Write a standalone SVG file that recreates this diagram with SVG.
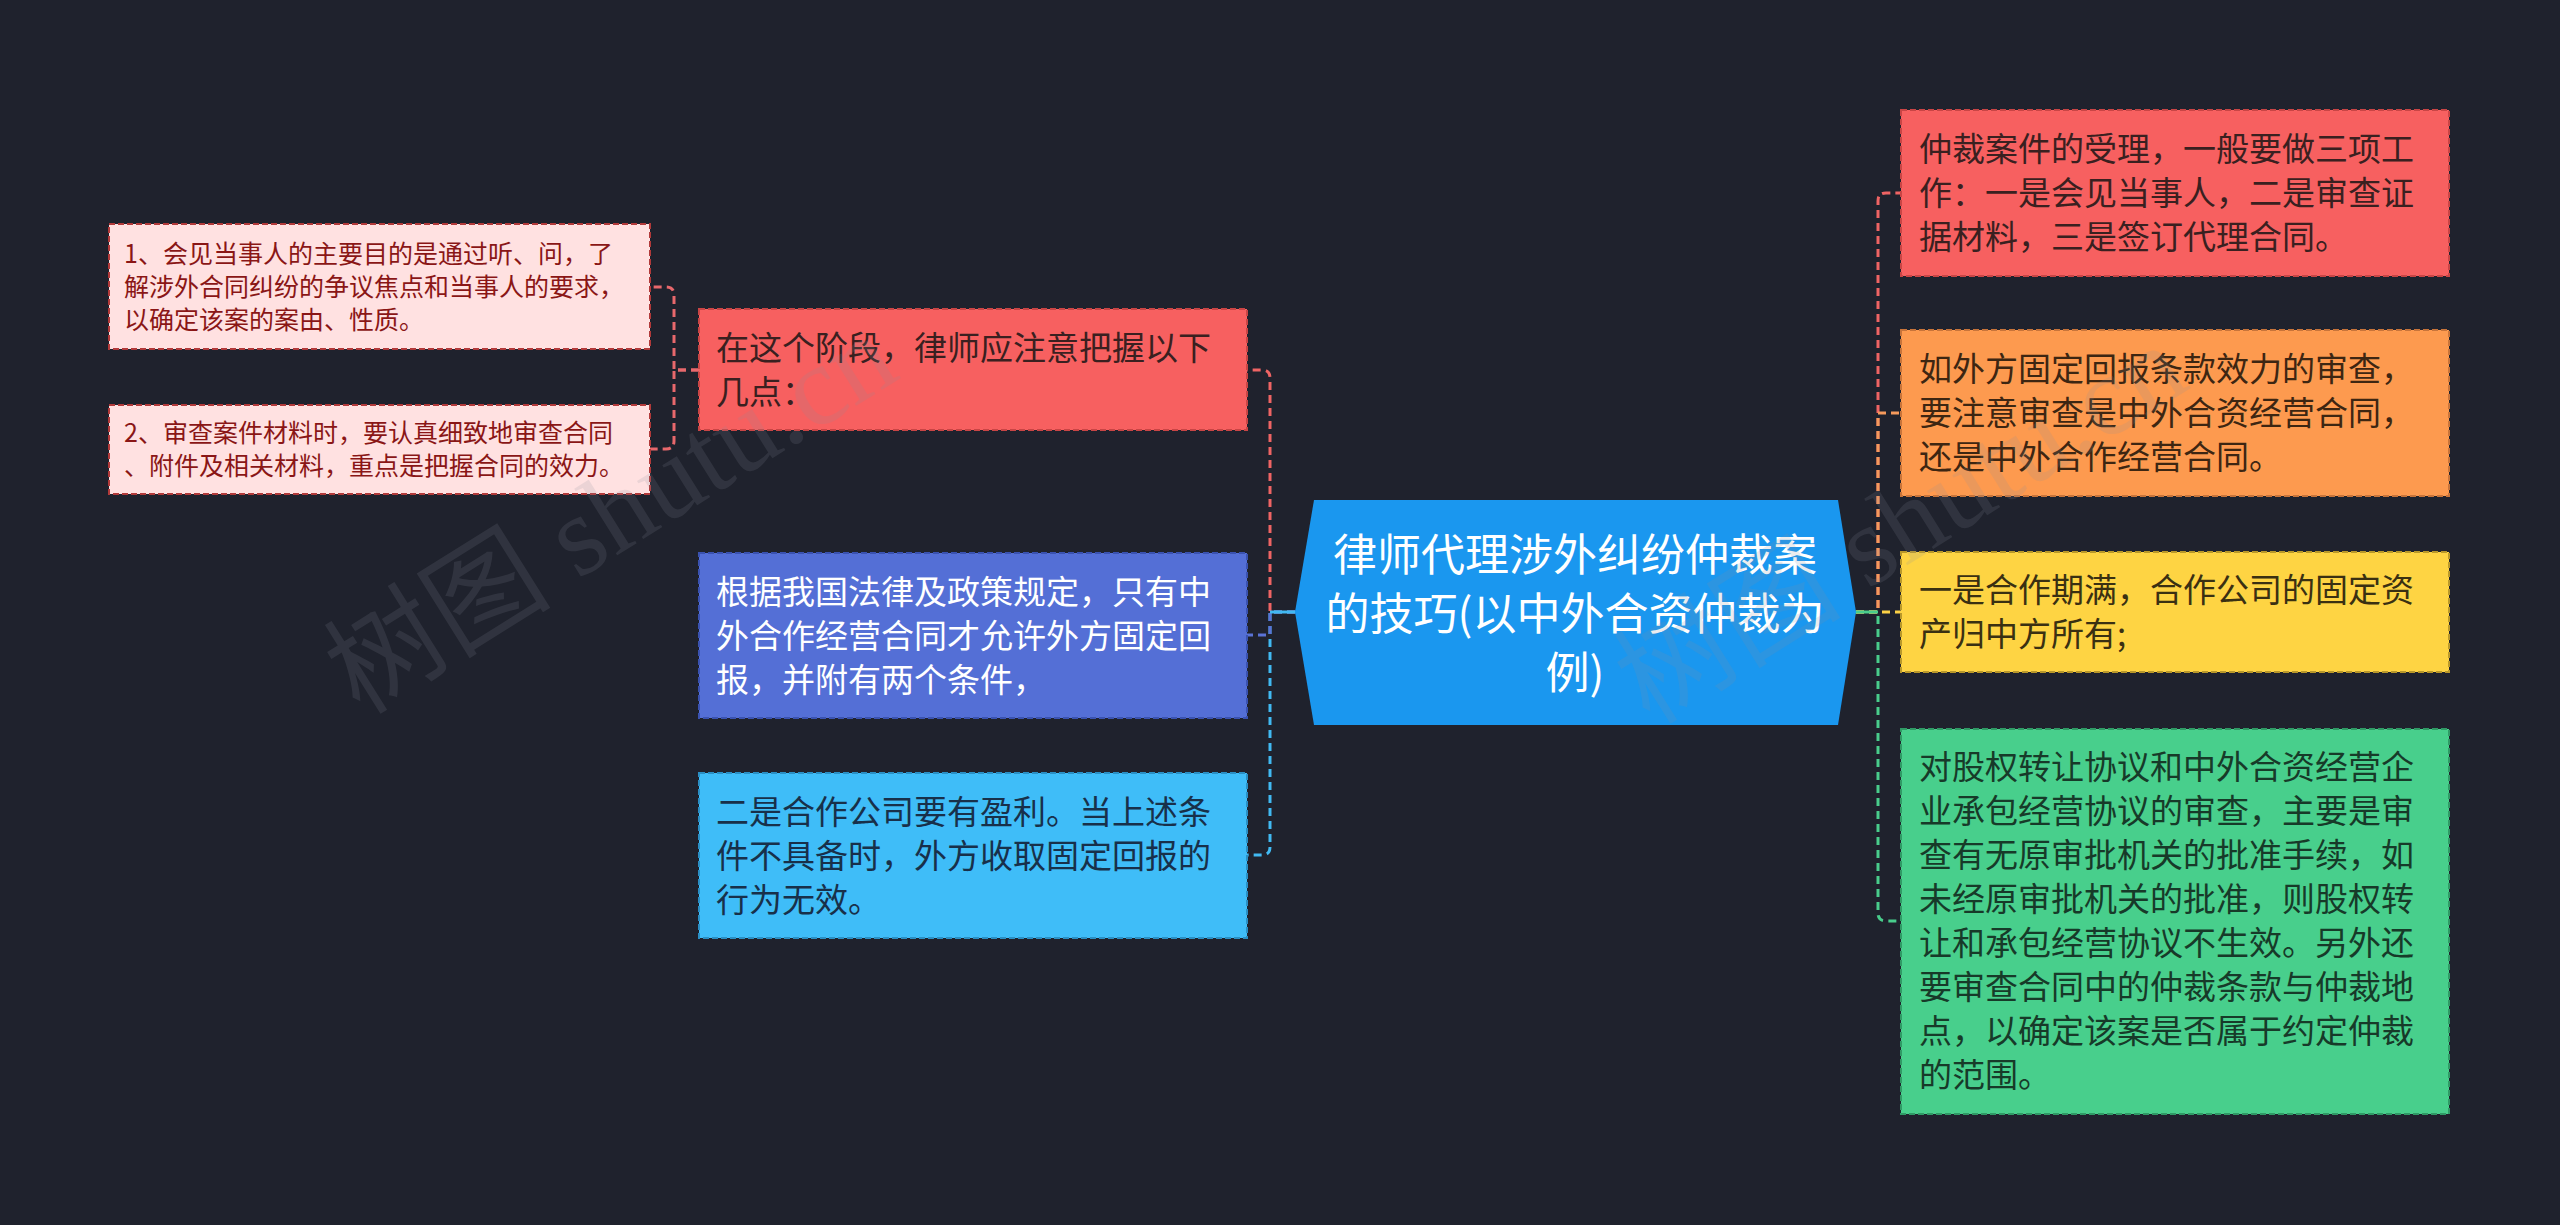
<svg xmlns="http://www.w3.org/2000/svg" width="2560" height="1225" viewBox="0 0 2560 1225">
<style>
text{font-family:"Noto Sans CJK SC","Noto Sans",sans-serif;}
.box{stroke-width:2;stroke-dasharray:6 3;}
.t33{font-size:33px;}
.t25{font-size:25px;}
.con{fill:none;stroke-width:3;stroke-dasharray:8 5;}
.wm{font-family:"Liberation Serif","Noto Sans CJK SC",serif;font-size:114px;fill:#8a8f9c;opacity:0.16;}
</style>
<rect width="2560" height="1225" fill="#1f222d"/>
<g id="connectors">
<path class="con" stroke="#e8686c" d="M699 370 H674 V295 Q674 287 666 287 H650"/>
<path class="con" stroke="#e8686c" d="M699 370 H674 V441 Q674 449 666 449 H650"/>
<path class="con" stroke="#ef6464" d="M1295 612 H1270 V378 Q1270 370 1262 370 H1247"/>
<path class="con" stroke="#41b9f2" d="M1295 612 H1270 V847 Q1270 855 1262 855 H1247"/>
<path class="con" stroke="#5a73d6" d="M1295 612 H1270 V635 H1247"/>
<path fill="none" stroke="#41b9f2" stroke-width="3" d="M1296 612 H1270"/>
<path class="con" stroke="#ef6464" d="M1856 612 H1878 V201 Q1878 193 1886 193 H1901"/>
<path class="con" stroke="#f59a5c" d="M1856 612 H1878 V413 H1901"/>
<path class="con" stroke="#49cd8c" d="M1856 612 H1878 V913 Q1878 921 1886 921 H1901"/>
<path class="con" stroke="#fcd146" d="M1856 612 H1901"/>
<path fill="none" stroke="#49cd8c" stroke-width="3" d="M1855 612 H1878"/>
</g>
<g id="center">
<polygon points="1314,500 1838,500 1856,612 1838,725 1314,725 1295,612" fill="#1a97ef"/>
<text font-size="44" fill="#ffffff" text-anchor="middle"><tspan x="1575" y="571">律师代理涉外纠纷仲裁案</tspan><tspan x="1575" y="630">的技巧(以中外合资仲裁为</tspan><tspan x="1575" y="689">例)</tspan></text>
</g>
<g id="n_left_red">
<rect class="box" x="699" y="309" width="548" height="121" fill="#f76060" stroke="#c94545"/>
<text class="t33" fill="#3a2020"><tspan x="716" y="360">在这个阶段，律师应注意把握以下</tspan><tspan x="716" y="404">几点：</tspan></text>
</g>
<g id="n_pink1">
<rect class="box" x="109" y="224" width="541" height="125" fill="#ffe1e1" stroke="#b23a3a"/>
<text class="t25" fill="#8a1616"><tspan x="124" y="263">1、会见当事人的主要目的是通过听、问，了</tspan><tspan x="124" y="296">解涉外合同纠纷的争议焦点和当事人的要求，</tspan><tspan x="124" y="329">以确定该案的案由、性质。</tspan></text>
</g>
<g id="n_pink2">
<rect class="box" x="109" y="405" width="541" height="89" fill="#ffe1e1" stroke="#b23a3a"/>
<text class="t25" fill="#8a1616"><tspan x="124" y="442">2、审查案件材料时，要认真细致地审查合同</tspan><tspan x="124" y="475">、附件及相关材料，重点是把握合同的效力。</tspan></text>
</g>
<g id="n_left_blue">
<rect class="box" x="699" y="553" width="548" height="165" fill="#546fd6" stroke="#3a52b0"/>
<text class="t33" fill="#ffffff"><tspan x="716" y="604">根据我国法律及政策规定，只有中</tspan><tspan x="716" y="648">外合作经营合同才允许外方固定回</tspan><tspan x="716" y="692">报，并附有两个条件，</tspan></text>
</g>
<g id="n_left_cyan">
<rect class="box" x="699" y="773" width="548" height="165" fill="#3fbdf8" stroke="#2a8fc4"/>
<text class="t33" fill="#18304a"><tspan x="716" y="824">二是合作公司要有盈利。当上述条</tspan><tspan x="716" y="868">件不具备时，外方收取固定回报的</tspan><tspan x="716" y="912">行为无效。</tspan></text>
</g>
<g id="n_right_red">
<rect class="box" x="1901" y="110" width="548" height="166" fill="#f76060" stroke="#c94545"/>
<text class="t33" fill="#3a2020"><tspan x="1919" y="161">仲裁案件的受理，一般要做三项工</tspan><tspan x="1919" y="205">作：一是会见当事人，二是审查证</tspan><tspan x="1919" y="249">据材料，三是签订代理合同。</tspan></text>
</g>
<g id="n_right_orange">
<rect class="box" x="1901" y="330" width="548" height="166" fill="#fd9a4f" stroke="#c8743a"/>
<text class="t33" fill="#3d2612"><tspan x="1919" y="381">如外方固定回报条款效力的审查，</tspan><tspan x="1919" y="425">要注意审查是中外合资经营合同，</tspan><tspan x="1919" y="469">还是中外合作经营合同。</tspan></text>
</g>
<g id="n_right_yellow">
<rect class="box" x="1901" y="552" width="548" height="120" fill="#fed443" stroke="#b9982a"/>
<text class="t33" fill="#3a3012"><tspan x="1919" y="602">一是合作期满，合作公司的固定资</tspan><tspan x="1919" y="646">产归中方所有;</tspan></text>
</g>
<g id="n_right_green">
<rect class="box" x="1901" y="729" width="548" height="385" fill="#48cf8c" stroke="#2f9a65"/>
<text class="t33" fill="#173a29"><tspan x="1919" y="779">对股权转让协议和中外合资经营企</tspan><tspan x="1919" y="823">业承包经营协议的审查，主要是审</tspan><tspan x="1919" y="867">查有无原审批机关的批准手续，如</tspan><tspan x="1919" y="911">未经原审批机关的批准，则股权转</tspan><tspan x="1919" y="955">让和承包经营协议不生效。另外还</tspan><tspan x="1919" y="999">要审查合同中的仲裁条款与仲裁地</tspan><tspan x="1919" y="1043">点，以确定该案是否属于约定仲裁</tspan><tspan x="1919" y="1087">的范围。</tspan></text>
</g>
<g id="watermarks">
<text class="wm" transform="translate(360 716) rotate(-32)">树图 shutu.cn</text>
<text class="wm" transform="translate(1650 726) rotate(-32)">树图 shutu.cn</text>
</g>
</svg>
